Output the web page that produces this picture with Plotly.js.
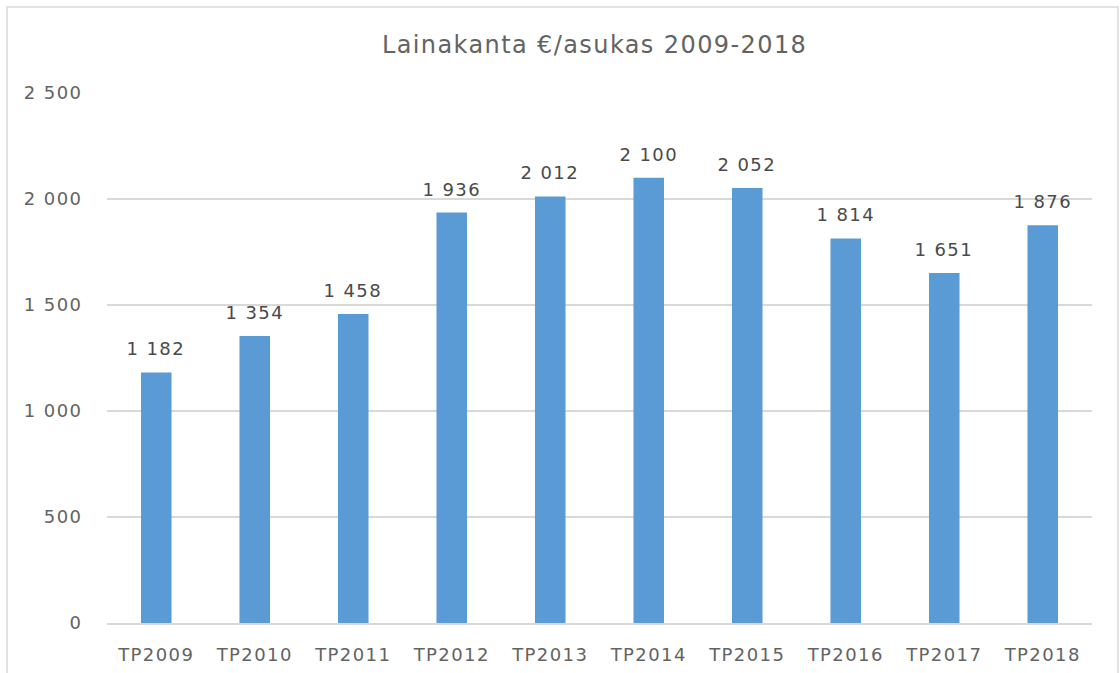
<!DOCTYPE html>
<html>
<head>
<meta charset="utf-8">
<script src="https://cdn.plot.ly/plotly-3.0.1.min.js"></script>
<style>
html,body{margin:0;padding:0;background:#fff;}
#chart{width:1120px;height:673px;}
#chart svg text{letter-spacing:1.4px;}
</style>
</head>
<body>
<div id="chart"></div>
<script>
const categories = ["TP2009","TP2010","TP2011","TP2012","TP2013","TP2014","TP2015","TP2016","TP2017","TP2018"];
const values = [1182, 1354, 1458, 1936, 2012, 2100, 2052, 1814, 1651, 1876];
const yTicks = [0, 500, 1000, 1500, 2000, 2500];

function fmt(n){ return String(n).replace(/\B(?=(\d{3})+(?!\d))/g, " "); }

const FONT = "DejaVu Sans, Liberation Sans, Arial, sans-serif";

const trace = {
  type: "bar",
  x: categories,
  y: values,
  marker: {color: "#5B9BD5"},
  width: 0.31,
  hoverinfo: "x+y"
};

const annotations = categories.map((c, i) => ({
  x: c, y: values[i], xref: "x", yref: "y",
  text: fmt(values[i]),
  showarrow: false,
  yanchor: "bottom",
  yshift: 11,
  font: {family: FONT, size: 18, color: "#4a4a4a"}
}));

const layout = {
  width: 1120, height: 673,
  margin: {l: 107, r: 28, t: 93, b: 50},
  paper_bgcolor: "#fff", plot_bgcolor: "#fff",
  title: {text: "Lainakanta €/asukas 2009-2018", xref: "paper", x: 0.495, xanchor: "center", y: 0.933, yanchor: "middle",
          font: {family: FONT, size: 24, color: "#636363"}},
  showlegend: false,
  separators: ", ",
  xaxis: {
    type: "category",
    showgrid: false,
    showline: true, linecolor: "#d9d9d9", linewidth: 2,
    ticks: "outside", ticklen: 14, tickcolor: "rgba(0,0,0,0)",
    tickfont: {family: FONT, size: 18, color: "#636363"},
    fixedrange: true
  },
  yaxis: {
    range: [0, 2500],
    tickvals: yTicks,
    ticktext: yTicks.map(fmt),
    showgrid: true, gridcolor: "#d9d9d9", gridwidth: 1.5,
    zeroline: false,
    showline: false,
    ticks: "outside", ticklen: 20, tickcolor: "rgba(0,0,0,0)",
    tickfont: {family: FONT, size: 18, color: "#636363"},
    fixedrange: true
  },
  annotations: annotations,
  shapes: [{
    type: "rect", xref: "paper", yref: "paper",
    x0: -0.1015, x1: 1.0264, y0: -0.12, y1: 1.1623,
    line: {color: "#d9d9d9", width: 1.5}, fillcolor: "rgba(0,0,0,0)", layer: "below"
  }]
};

Plotly.newPlot("chart", [trace], layout, {displayModeBar: false, staticPlot: true});
</script>
</body>
</html>
